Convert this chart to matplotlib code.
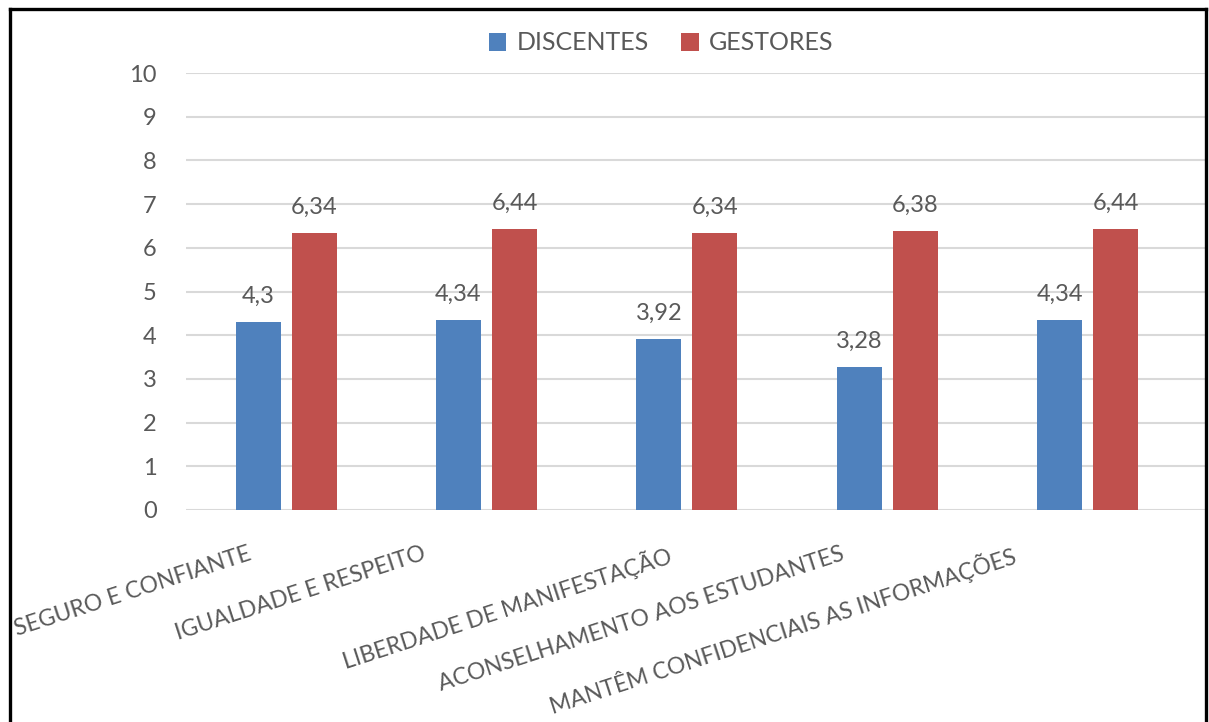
import matplotlib
matplotlib.use("Agg")
from matplotlib import pyplot as plt
from matplotlib.lines import Line2D
from matplotlib.transforms import ScaledTranslation
import numpy as np

categorias = ["SEGURO E CONFIANTE", "IGUALDADE E RESPEITO", "LIBERDADE DE MANIFESTAÇÃO",
              "ACONSELHAMENTO AOS ESTUDANTES", "MANTÊM CONFIDENCIAIS AS INFORMAÇÕES"]
discentes = [4.3, 4.34, 3.92, 3.28, 4.34]
gestores = [6.34, 6.44, 6.34, 6.38, 6.44]
rotulos_discentes = ["4,3", "4,34", "3,92", "3,28", "4,34"]
rotulos_gestores = ["6,34", "6,44", "6,34", "6,38", "6,44"]
yticks = list(range(0, 11))

AZUL = "#4F81BD"
VERMELHO = "#C0504D"
CINZA = "#595959"

plt.rcParams['font.family'] = ['Lato', 'DejaVu Sans']

W, H = 1209, 722
fig = plt.figure(figsize=(W / 100, H / 100), dpi=100)
ax = fig.add_axes([186 / W, 1 - 510 / H, (1205 - 186) / W, (510 - 73) / H])

x = np.arange(len(categorias))
larg = 0.224
b1 = ax.bar(x - 0.14, discentes, larg, color=AZUL, label="DISCENTES", zorder=3)
b2 = ax.bar(x + 0.14, gestores, larg, color=VERMELHO, label="GESTORES", zorder=3)

for barras, textos in ((b1, rotulos_discentes), (b2, rotulos_gestores)):
    for r, t in zip(barras, textos):
        ax.annotate(t, (r.get_x() + r.get_width() / 2, r.get_height()),
                    xytext=(0, 15), textcoords="offset pixels",
                    ha="center", va="bottom", fontsize=17, color=CINZA)

ax.set_xlim(-0.5, 4.586)
ax.set_ylim(0, 10)
ax.set_yticks(yticks)
ax.yaxis.grid(True, color="#D9D9D9", linewidth=1.5, zorder=0)
ax.tick_params(axis="y", length=0, pad=21, labelsize=17, labelcolor=CINZA)
ax.tick_params(axis="x", length=0, pad=24, labelsize=16.5, labelcolor=CINZA)
for s in ax.spines.values():
    s.set_visible(False)

ax.set_xticks(x)
ax.set_xticklabels(categorias, rotation=18, ha="right", va="top", rotation_mode="anchor")
# ajuste fino da posição de cada rótulo (em pixels)
desloc = [-39, -65, -20, -47, -76]
for lbl, dx in zip(ax.get_xticklabels(), desloc):
    lbl.set_transform(lbl.get_transform() + ScaledTranslation(dx / 100, 0, fig.dpi_scale_trans))

leg = fig.legend(loc="center", bbox_to_anchor=(661 / W, 1 - 43 / H), ncol=2, frameon=False,
                 fontsize=18, handlelength=0.7, handleheight=0.7, handletextpad=0.4,
                 columnspacing=1.3)
for t in leg.get_texts():
    t.set_color(CINZA)

# moldura
for xs, ys in (([9.5, 9.5], [H, 8.5]), ([9.5, 1205.5], [8.5, 8.5]), ([1205.5, 1205.5], [8.5, H])):
    fig.add_artist(Line2D([v / W for v in xs], [1 - v / H for v in ys], color="black", linewidth=2.4))

fig.savefig("out.png", dpi=100)
